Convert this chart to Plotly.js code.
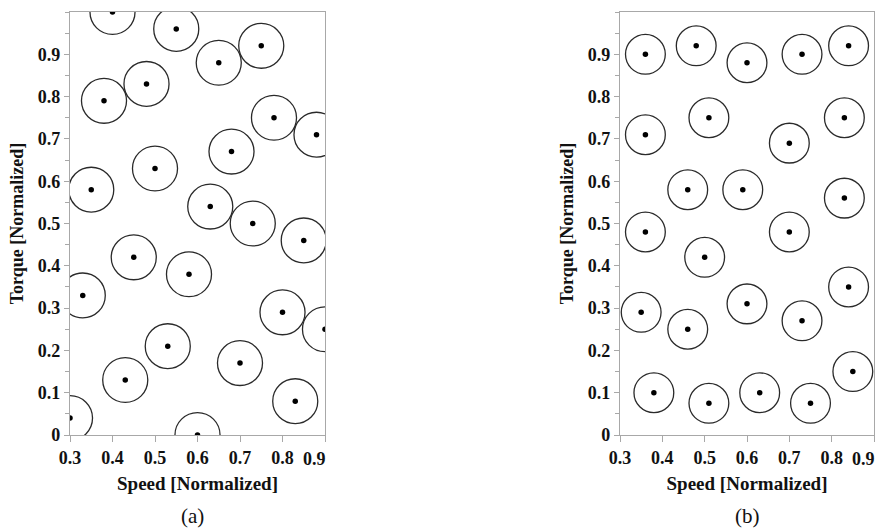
<!DOCTYPE html>
<html>
<head>
<meta charset="utf-8">
<script src="https://cdn.plot.ly/plotly-3.0.1.min.js"></script>
<style>
  html, body { margin: 0; padding: 0; background: #fff; }
  #chart { width: 876px; height: 529px; }
</style>
</head>
<body>
<div id="chart"></div>
<script>
// ---- Data: panel (a) ----
const speedA  = [0.40, 0.55, 0.65, 0.75, 0.48, 0.38, 0.78, 0.88, 0.68, 0.50, 0.35, 0.63, 0.73, 0.85,
                 0.45, 0.58, 0.33, 0.80, 0.90, 0.53, 0.70, 0.43, 0.83, 0.30, 0.60];
const torqueA = [1.00, 0.96, 0.88, 0.92, 0.83, 0.79, 0.75, 0.71, 0.67, 0.63, 0.58, 0.54, 0.50, 0.46,
                 0.42, 0.38, 0.33, 0.29, 0.25, 0.21, 0.17, 0.13, 0.08, 0.04, 0.00];
const radiusA = 0.053;

// ---- Data: panel (b) ----
const speedB  = [0.36, 0.48, 0.60, 0.73, 0.84, 0.36, 0.51, 0.70, 0.83, 0.46, 0.59, 0.83, 0.36, 0.70,
                 0.50, 0.84, 0.35, 0.46, 0.60, 0.73, 0.38, 0.51, 0.63, 0.75, 0.85];
const torqueB = [0.90, 0.92, 0.88, 0.90, 0.92, 0.71, 0.75, 0.69, 0.75, 0.58, 0.58, 0.56, 0.48, 0.48,
                 0.42, 0.35, 0.29, 0.25, 0.31, 0.27, 0.10, 0.075, 0.10, 0.075, 0.15];
const radiusB = 0.047;

// ---- Axis labels ----
const xTickVals = [0.3, 0.4, 0.5, 0.6, 0.7, 0.8, 0.9];
const xTickText = ["0.3", "0.4", "0.5", "0.6", "0.7", "0.8", ""];
const xEndTickVals = [0.9];          // last label, drawn right-aligned to its tick
const xEndTickText = ["0.9"];
const yTickVals = [0, 0.1, 0.2, 0.3, 0.4, 0.5, 0.6, 0.7, 0.8, 0.9];
const yTickText = ["0", "0.1", "0.2", "0.3", "0.4", "0.5", "0.6", "0.7", "0.8", "0.9"];
const xTitle = "Speed [Normalized]";
const yTitle = "Torque [Normalized]";
const captions = ["(a)", "(b)"];

const SERIF = "Liberation Serif, Times New Roman, serif";
const frameColor = "#a8a8a8";
const tickFont = { family: SERIF, size: 18, color: "#111", weight: "bold" };

function circleShapes(xs, ys, r, xref, yref) {
  return xs.map((x, i) => ({
    type: "circle", xref: xref, yref: yref,
    x0: x - r, x1: x + r, y0: ys[i] - r, y1: ys[i] + r,
    line: { color: "#2a2a2a", width: 1.3 },
    fillcolor: "rgba(0,0,0,0)", layer: "above"
  }));
}

const traces = [
  { type: "scatter", mode: "markers", x: speedA, y: torqueA, xaxis: "x", yaxis: "y",
    marker: { color: "#000", size: 5.5 }, cliponaxis: true, hoverinfo: "x+y" },
  { type: "scatter", mode: "markers", x: speedB, y: torqueB, xaxis: "x2", yaxis: "y2",
    marker: { color: "#000", size: 5.5 }, cliponaxis: true, hoverinfo: "x+y" },
  // empty traces so the overlay axes that carry the right-aligned last label exist
  { type: "scatter", mode: "markers", x: [], y: [], xaxis: "x3", yaxis: "y", hoverinfo: "skip" },
  { type: "scatter", mode: "markers", x: [], y: [], xaxis: "x4", yaxis: "y2", hoverinfo: "skip" }
];

function xAxis(domain, anchor) {
  return {
    domain: domain, anchor: anchor, range: [0.3, 0.9],
    tickmode: "array", tickvals: xTickVals, ticktext: xTickText,
    ticks: "outside", ticklen: 6, tickwidth: 1, tickcolor: frameColor,
    showline: true, linecolor: frameColor, linewidth: 1.2, mirror: true,
    showgrid: false, zeroline: false,
    tickfont: tickFont,
    title: { text: xTitle, font: { family: SERIF, size: 19, color: "#111", weight: "bold" }, standoff: 10 }
  };
}
function xEndAxis(over, anchor) {
  return {
    overlaying: over, anchor: anchor, side: "bottom", range: [0.3, 0.9],
    tickmode: "array", tickvals: xEndTickVals, ticktext: xEndTickText,
    ticklabelposition: "outside left", ticklabelshift: 1, ticklabelstandoff: 7,
    ticks: "outside", ticklen: 6, tickwidth: 1, tickcolor: "rgba(0,0,0,0)",
    showline: false, showgrid: false, zeroline: false,
    tickfont: tickFont
  };
}
function yAxis(domain, anchor) {
  return {
    domain: domain, anchor: anchor, range: [0, 1.0],
    tickmode: "array", tickvals: yTickVals, ticktext: yTickText,
    ticks: "outside", ticklen: 5, tickwidth: 1, tickcolor: frameColor,
    minor: { tickmode: "linear", tick0: 0, dtick: 0.05, ticks: "outside", ticklen: 4, tickcolor: frameColor, showgrid: false },
    showline: true, linecolor: frameColor, linewidth: 1.2, mirror: true,
    showgrid: false, zeroline: false,
    tickfont: tickFont,
    title: { text: yTitle, font: { family: SERIF, size: 18, color: "#111", weight: "bold" }, standoff: 9 }
  };
}

const layout = {
  width: 876, height: 529,
  margin: { l: 70, r: 2, t: 12, b: 94 },
  paper_bgcolor: "#fff", plot_bgcolor: "#fff",
  showlegend: false,
  xaxis: xAxis([0, 255 / 804], "y"),
  yaxis: yAxis([0, 1], "x"),
  xaxis2: xAxis([550 / 804, 1], "y2"),
  yaxis2: yAxis([0, 1], "x2"),
  xaxis3: xEndAxis("x", "y"),
  xaxis4: xEndAxis("x2", "y2"),
  shapes: circleShapes(speedA, torqueA, radiusA, "x", "y")
          .concat(circleShapes(speedB, torqueB, radiusB, "x2", "y2")),
  annotations: [
    { text: captions[0], xref: "paper", yref: "paper", x: 0.152, y: -0.1915, xanchor: "center", yanchor: "middle",
      showarrow: false, font: { family: SERIF, size: 21, color: "#111" } },
    { text: captions[1], xref: "paper", yref: "paper", x: 0.843, y: -0.1915, xanchor: "center", yanchor: "middle",
      showarrow: false, font: { family: SERIF, size: 21, color: "#111" } }
  ]
};

Plotly.newPlot("chart", traces, layout, { staticPlot: true, displayModeBar: false });
</script>
</body>
</html>
